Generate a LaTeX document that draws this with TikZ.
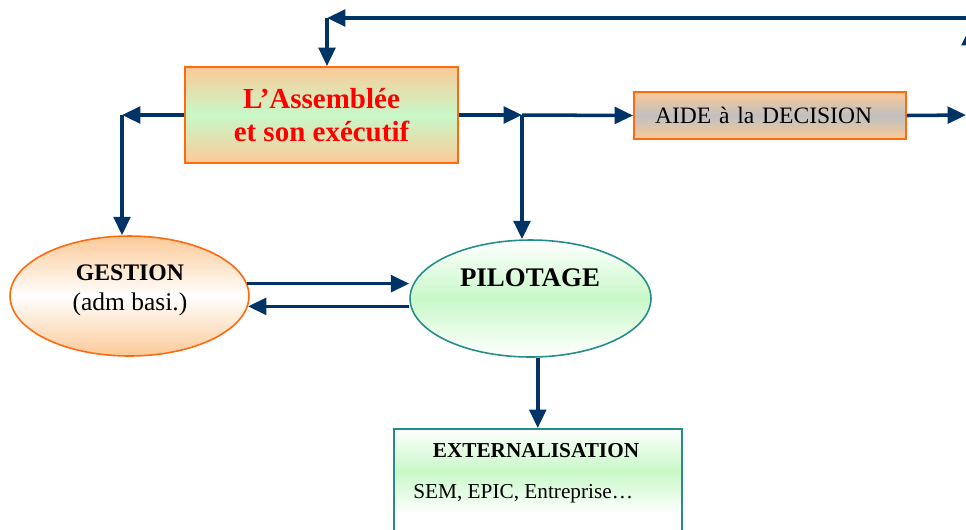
\documentclass[tikz,border=0pt]{standalone}
\usepackage{fontspec}
\setmainfont{Liberation Serif}
\usepackage{tikz}
\usetikzlibrary{arrows.meta,positioning}
\usetikzlibrary{shapes.geometric}
\definecolor{navy}{HTML}{003366}
\definecolor{orF}{HTML}{FBCA98}
\definecolor{orB}{HTML}{FF6A10}
\definecolor{vertF}{HTML}{C8F8C8}
\definecolor{grisF}{HTML}{C0C0C0}
\definecolor{tealB}{HTML}{258C8C}
\tikzset{
 >={Triangle[length=10.5pt,width=9.5pt]},
 flux/.style={->,draw=navy,line width=2pt},
 boite/.style={rectangle,draw=orB,line width=1.1pt,inner sep=0pt},
 bulle/.style={ellipse,line width=0.9pt,inner sep=0pt}
}
\begin{document}
\begin{tikzpicture}[x=0.02cm,y=-0.02cm]
\useasboundingbox (0,0) rectangle (966,529);
\clip (0,0) rectangle (966,529);

% boites et bulles
\path (321.5,115) node[name=asm,boite,minimum width=5.46cm,minimum height=1.92cm,
  top color=orF,bottom color=orF,middle color=vertF,align=center,text=red,
  font=\fontsize{16.5}{18.7}\selectfont\bfseries] {L’Assemblée\\et son exécutif};
\path (770,115.5) node[name=aide,boite,minimum height=0.94cm,inner xsep=0.42cm,
  text width=4.6cm,align=left,top color=orF,bottom color=orF,middle color=grisF,
  font=\fontsize{13.4}{15}\selectfont] {AIDE à la DECISION};
\path (129.5,296) node[name=ges,bulle,draw=orB,minimum width=4.78cm,minimum height=2.4cm,
  top color=orF,bottom color=orF,middle color=white] {};
\path (530.5,298.5) node[name=pil,bulle,draw=tealB,minimum width=4.82cm,minimum height=2.34cm,
  top color=white,bottom color=white,middle color=vertF] {};
\shade[top color=white,bottom color=white,middle color=vertF] (394,428) rectangle (682,514);
\path (538,428) node[name=ext,anchor=north,draw=tealB,line width=0.9pt,
  minimum width=5.76cm,minimum height=3cm] {};

% textes
\path (130,290) node[name=gesT,align=center,font=\fontsize{14.5}{17}\selectfont]
  {{\fontsize{13.5}{17}\selectfont\bfseries GESTION}\\(adm basi.)};
\path (530,278) node[name=pilT,font=\fontsize{15.3}{18}\selectfont\bfseries] {PILOTAGE};
\path (536,451) node[name=extT,font=\fontsize{12.1}{14}\selectfont\bfseries] {EXTERNALISATION};
\path (413,494) node[name=extS,anchor=west,inner xsep=0pt,font=\fontsize{12.1}{14}\selectfont]
  {SEM, EPIC, Entreprise…};

% coins des fleches
\coordinate (hautD) at (990,18);
\coordinate (coinA) at (327,18);
\coordinate (coinG) at (122,115);
\coordinate (coinP) at (522,115);
\coordinate (bordD) at (966,115);
\coordinate (basD) at (970,60);
\coordinate (pointeD) at (970,27);

\draw[flux] (hautD) -- (coinA);
\draw[flux] (coinA) -- (coinA |- asm.north);
\draw[flux] (asm.west) -- (coinG);
\draw[flux] (coinG) -- (coinG |- ges.north);
\draw[flux] (asm.east) -- (coinP);
\draw[flux] (coinP) -- (aide.west);
\draw[flux] (coinP) -- (coinP |- pil.north);
\draw[flux] (aide.east) -- (bordD);
\draw[flux] (basD) -- (pointeD);
\draw[flux] (ges.6) -- (ges.6 -| pil.west);
\draw[flux] (pil.west |- ges.-5) -- (ges.-5);
\draw[flux] (pil.-83) -- (pil.-83 |- ext.north);
\end{tikzpicture}
\end{document}
